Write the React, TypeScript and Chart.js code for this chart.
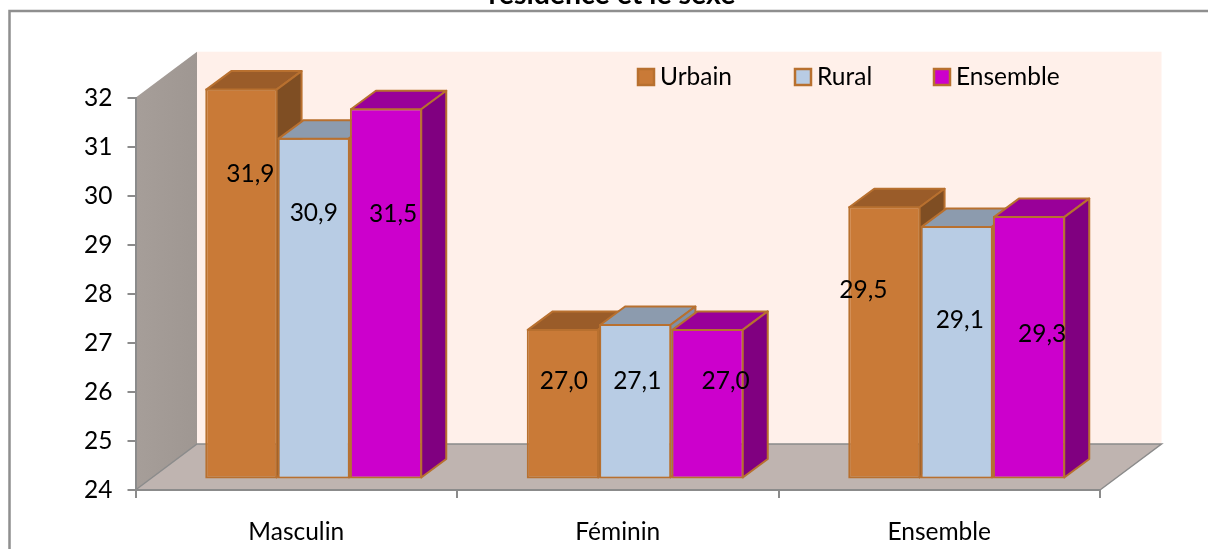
import React, { useEffect, useRef } from "react";
import { Chart, registerables } from "chart.js";

Chart.register(...registerables);

const categories = ["Masculin", "Féminin", "Ensemble"];
const urbain = [31.9, 27.0, 29.5];
const rural = [30.9, 27.1, 29.1];
const ensemble = [31.5, 27.0, 29.3];
const seriesNames = ["Urbain", "Rural", "Ensemble"];
const titleText = "résidence et le sexe";

const FONT = "Lato, Carlito, Calibri, sans-serif";
const FS = 24.5;
const W = 1208, H = 549;
const AREA = { left: 135.5, right: 1100, top: 97.7, bottom: 490 };
const WALL = { dx: 61.5, dy: -46 };
const BAR_SHIFT = { x: 17.5, y: -14 };
const BAR_DEPTH = { x: 25, y: -18.5 };
const EDGE = "#b8702f";
const GREY = "#8b8b8b";

const fills = ["#c97a37", "#b8cce4", "#cc00cc"];
const faces = [
  { top: "#9a5c29", side: "#7f4e23" },
  { top: "#8c9bae", side: "#7f90a6" },
  { top: "#990099", side: "#800080" },
];
const legendX = [638, 795, 934];

// label centre relative to (bar centre x, bar top y)
const labelOffsets = [
  [[9, 85.5], [0, 75.5], [7, 105.5]],
  [[1, 52.5], [2, 57.5], [18, 52.5]],
  [[-21, 83.5], [3, 94.5], [13, 117.5]],
];

const fmt = (v: number) => v.toFixed(1).replace(".", ",");

const scene = {
  id: "scene",
  beforeDraw(chart: any) {
    const c = chart.ctx;
    const { left, right, top, bottom } = AREA;
    const bx = WALL.dx, by = WALL.dy;
    c.save();
    c.fillStyle = "#fff";
    c.fillRect(0, 0, W, H);
    // frame (only its top and left sides fall inside the picture)
    c.strokeStyle = "#8f8f8f";
    c.lineWidth = 2.5;
    c.strokeRect(9.5, 11, W + 20, H + 20);
    // clipped title
    c.fillStyle = "#000";
    c.font = `bold 28.5px ${FONT}`;
    c.textAlign = "center";
    c.textBaseline = "alphabetic";
    c.fillText(titleText, 612, 4);
    // back wall
    c.fillStyle = "#fff0ea";
    c.fillRect(left + bx, top + by, right - left, bottom - top);
    // side wall
    const g = c.createLinearGradient(left, 0, left + bx, 0);
    g.addColorStop(0, "#a69e99");
    g.addColorStop(1, "#9f9792");
    c.fillStyle = g;
    c.beginPath();
    c.moveTo(left, bottom);
    c.lineTo(left + bx, bottom + by);
    c.lineTo(left + bx, top + by);
    c.lineTo(left, top);
    c.closePath();
    c.fill();
    // floor
    c.fillStyle = "#bfb4b0";
    c.beginPath();
    c.moveTo(left, bottom);
    c.lineTo(right, bottom);
    c.lineTo(right + bx, bottom + by);
    c.lineTo(left + bx, bottom + by);
    c.closePath();
    c.fill();
    c.strokeStyle = GREY;
    c.lineWidth = 1.5;
    c.beginPath();
    c.moveTo(left, bottom);
    c.lineTo(left + bx, bottom + by);
    c.lineTo(right + bx, bottom + by);
    c.lineTo(right, bottom);
    c.stroke();
    // legend
    c.font = `${FS}px ${FONT}`;
    c.textAlign = "left";
    c.textBaseline = "middle";
    chart.data.datasets.forEach((ds: any, i: number) => {
      const x = legendX[i];
      c.fillStyle = ds.backgroundColor;
      c.strokeStyle = EDGE;
      c.lineWidth = 2.5;
      c.fillRect(x, 69, 16, 16);
      c.strokeRect(x, 69, 16, 16);
      c.fillStyle = "#000";
      c.fillText(ds.label, x + 22, 77.5);
    });
    c.restore();
  },
  beforeDatasetDraw() {
    // bars are painted left to right in afterDatasetsDraw, so that each one
    // overlaps the 3D faces of its left-hand neighbour
    return false;
  },
  afterDatasetsDraw(chart: any) {
    const c = chart.ctx;
    c.save();
    c.translate(BAR_SHIFT.x, BAR_SHIFT.y);
    chart.data.datasets.forEach((_: any, i: number) => {
      const meta = chart.getDatasetMeta(i);
      meta.controller.draw();
      const f = faces[i];
      c.save();
      c.strokeStyle = EDGE;
      c.lineWidth = 2;
      c.lineJoin = "round";
      meta.data.forEach((el: any) => {
        const { x, y, base, width } = el.getProps(["x", "y", "base", "width"], true);
        const x0 = x - width / 2 + 1, x1 = x + width / 2 - 1, y0 = y + 1, yb = base - 1;
        const { x: dx, y: dy } = BAR_DEPTH;
        c.fillStyle = f.top;
        c.beginPath();
        c.moveTo(x0, y0);
        c.lineTo(x0 + dx, y0 + dy);
        c.lineTo(x1 + dx, y0 + dy);
        c.lineTo(x1, y0);
        c.closePath();
        c.fill();
        c.stroke();
        c.fillStyle = f.side;
        c.beginPath();
        c.moveTo(x1, y0);
        c.lineTo(x1 + dx, y0 + dy);
        c.lineTo(x1 + dx, yb + dy);
        c.lineTo(x1, yb);
        c.closePath();
        c.fill();
        c.stroke();
      });
      c.restore();
    });
    c.restore();
    c.save();
    c.fillStyle = "#000";
    c.font = `${FS}px ${FONT}`;
    c.textAlign = "center";
    c.textBaseline = "middle";
    chart.data.datasets.forEach((ds: any, i: number) => {
      chart.getDatasetMeta(i).data.forEach((el: any, j: number) => {
        const [ox, oy] = labelOffsets[j][i];
        c.fillText(fmt(ds.data[j]), el.x + BAR_SHIFT.x + ox, el.y + BAR_SHIFT.y + oy);
      });
    });
    c.restore();
  },
};

export default function App() {
  const ref = useRef<HTMLCanvasElement | null>(null);
  useEffect(() => {
    const chart = new Chart(ref.current as HTMLCanvasElement, {
      type: "bar",
      plugins: [scene],
      data: {
        labels: categories,
        datasets: [urbain, rural, ensemble].map((data, i) => ({
          label: seriesNames[i],
          data,
          backgroundColor: fills[i],
          borderColor: EDGE,
          borderWidth: 2,
          borderSkipped: false,
          base: 23.95,
          barPercentage: 1,
          categoryPercentage: 0.675,
        })) as any,
      },
      options: {
        responsive: false,
        animation: false,
        maintainAspectRatio: false,
        layout: { padding: { top: AREA.top, right: W - AREA.right, left: 0, bottom: 0 } },
        plugins: {
          title: { display: false },
          tooltip: { enabled: false },
          legend: { display: false },
        },
        scales: {
          x: {
            afterFit: (s: any) => { s.height = H - AREA.bottom; },
            grid: { offset: true, drawOnChartArea: false, color: GREY, tickLength: 8, lineWidth: 2 },
            border: { color: GREY, width: 2 },
            ticks: { color: "#000", padding: 19, font: { family: FONT, size: FS } },
          },
          y: {
            min: 24,
            max: 32,
            afterFit: (s: any) => { s.width = AREA.left; },
            grid: { drawOnChartArea: false, color: GREY, tickLength: 8, lineWidth: 2 },
            border: { color: GREY, width: 2 },
            ticks: { stepSize: 1, color: "#000", padding: 15, font: { family: FONT, size: FS } },
          },
        },
      },
    });
    return () => chart.destroy();
  }, []);
  return (
    <div style={{ position: "fixed", left: 0, top: 0, width: W, height: H, background: "#fff", overflow: "hidden" }}>
      <canvas ref={ref} width={W} height={H} style={{ display: "block" }} />
    </div>
  );
}
